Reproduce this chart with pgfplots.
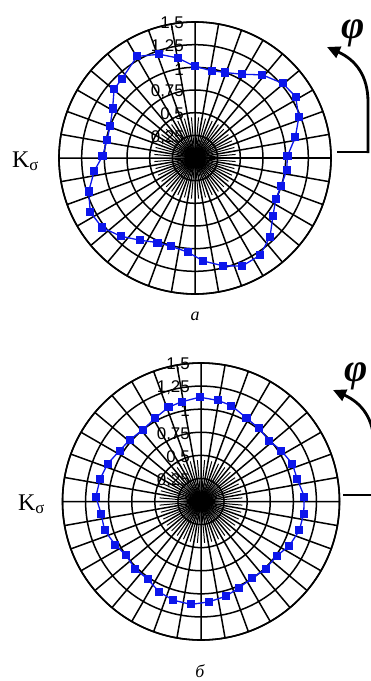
\documentclass[border=0pt]{standalone}
\usepackage{fontspec}
\setmainfont{Liberation Serif}
\newfontfamily\arial{Liberation Sans}
\usepackage{pgfplots}
\pgfplotsset{compat=1.18}
\usepgfplotslibrary{polar}
\usetikzlibrary{arrows.meta}

\definecolor{ptblue}{RGB}{12,22,235}

\pgfplotsset{
  rosegrid/.style={
    scale only axis,
    width=#1, height=#1,
    anchor=center,
    xmin=0, xmax=360, ymin=0, ymax=1.5,
    xtick={0,10,...,350},
    ytick={0.25,0.5,0.75,1,1.25,1.5},
    xticklabels={}, yticklabels={},
    grid=major,
    major grid style={black, line width=1.5bp},
    axis line style={black, line width=1.6bp},
    major tick length=0pt,
    clip=false,
  },
  kline/.style={ptblue, line width=1.3bp, mark=square*,
    mark size=3.4bp, mark options={solid, fill=ptblue, draw=ptblue}},
}

% radial labels and inner spokes
\newcommand{\innergrid}{%
  \pgfplotsinvokeforeach{5,15,...,355}{%
    \draw[black, line width=1bp] (axis cs:##1,0) -- (axis cs:##1,0.45);}
  \fill[black] (axis cs:0,0) circle[radius=9bp];
  \foreach \r/\t in {0.25/{0,25},0.5/{0,5},0.75/{0,75},1/{1},1.25/{1,25},1.5/{1,5}}{%
    \edef\tmp{\noexpand\node[anchor=east, inner sep=0pt, xshift=-11bp, yshift=-2bp,
      font=\noexpand\arial\noexpand\fontsize{17}{17}\noexpand\selectfont]
      at (axis cs:90,\r) {\t};}\tmp}
}

\begin{document}
\begin{tikzpicture}
\path[use as bounding box] (0,0) rectangle (371bp,-681bp);

% --- a ---
\begin{polaraxis}[rosegrid=272bp, at={(195bp,-158bp)}]
\innergrid
\addplot[kline] coordinates {
(1.2,1.02) (11.7,1.13) (21.4,1.23) (31.4,1.30) (40.4,1.27) (51,1.18)
(60.6,1.06) (70.6,1.00) (79.2,0.98) (90,1.01) (99.8,1.12) (109,1.21)
(119.7,1.29) (132.6,1.19) (139.7,1.17) (149,1.06) (159.4,1.00) (168.5,0.99)
(178.8,1.02) (187.3,1.12) (197.5,1.23) (207.3,1.30) (216.8,1.28) (226.4,1.19)
(236.4,1.09) (246.1,1.02) (254.9,1.01) (265.5,1.04) (274.6,1.14) (284.7,1.23)
(293.7,1.30) (303.8,1.29) (313.6,1.20) (323.5,1.07) (333,1.00) (342.3,1.00)
(352.5,1.02) (361.2,1.02)
};
\end{polaraxis}

% --- б ---
\begin{polaraxis}[rosegrid=277bp, at={(201bp,-501.5bp)}]
\innergrid
\addplot[kline] coordinates {
(2.7,1.12) (13.2,1.07) (22.4,1.07) (32.3,1.03) (41.8,0.99) (51.8,1.01)
(61.4,1.03) (72.4,1.09) (80.5,1.11) (90.7,1.13) (101,1.10) (109,1.08)
(119,1.03) (129,1.00) (139,1.02) (148,1.04) (158,1.09) (167.4,1.12)
(177.4,1.14) (187,1.09) (196.7,1.09) (206.8,1.04) (215.5,1.00) (225.6,1.02)
(235.5,1.02) (245.3,1.08) (254.3,1.11) (264.5,1.12) (274.6,1.09) (285,1.06)
(293.7,1.02) (303.7,1.00) (313.9,1.01) (324.5,1.01) (333.3,1.07) (343.6,1.11)
(353.2,1.12) (362.7,1.12)
};
\end{polaraxis}

% labels, direction arrows, captions
\begin{scope}[x=1bp, y=-1bp]
\foreach \dx/\dy/\px in {0/0/353, 6/343/350}{
  \begin{scope}[shift={(\dx,\dy)}]
  \node[anchor=base west, inner sep=0pt, font=\fontsize{24}{24}\selectfont]
    at (12,167) {K\textsubscript{σ}};
  \node[inner sep=0pt, font=\bfseries\itshape\fontsize{40}{40}\selectfont]
    at (\px,33) {φ};
  \draw[black, line width=2.2bp] (337,152) -- (368,152);
  \draw[black, line width=2.8bp, -{Triangle[length=13bp, width=12bp]}]
    (368,153) -- (368,102) .. controls (368,76) and (356,60) .. (327,47);
  \end{scope}
}
\node[font=\itshape\fontsize{18}{18}\selectfont] at (195,316) {а};
\node[font=\itshape\fontsize{18}{18}\selectfont] at (200,671) {б};
\end{scope}
\end{tikzpicture}
\end{document}
